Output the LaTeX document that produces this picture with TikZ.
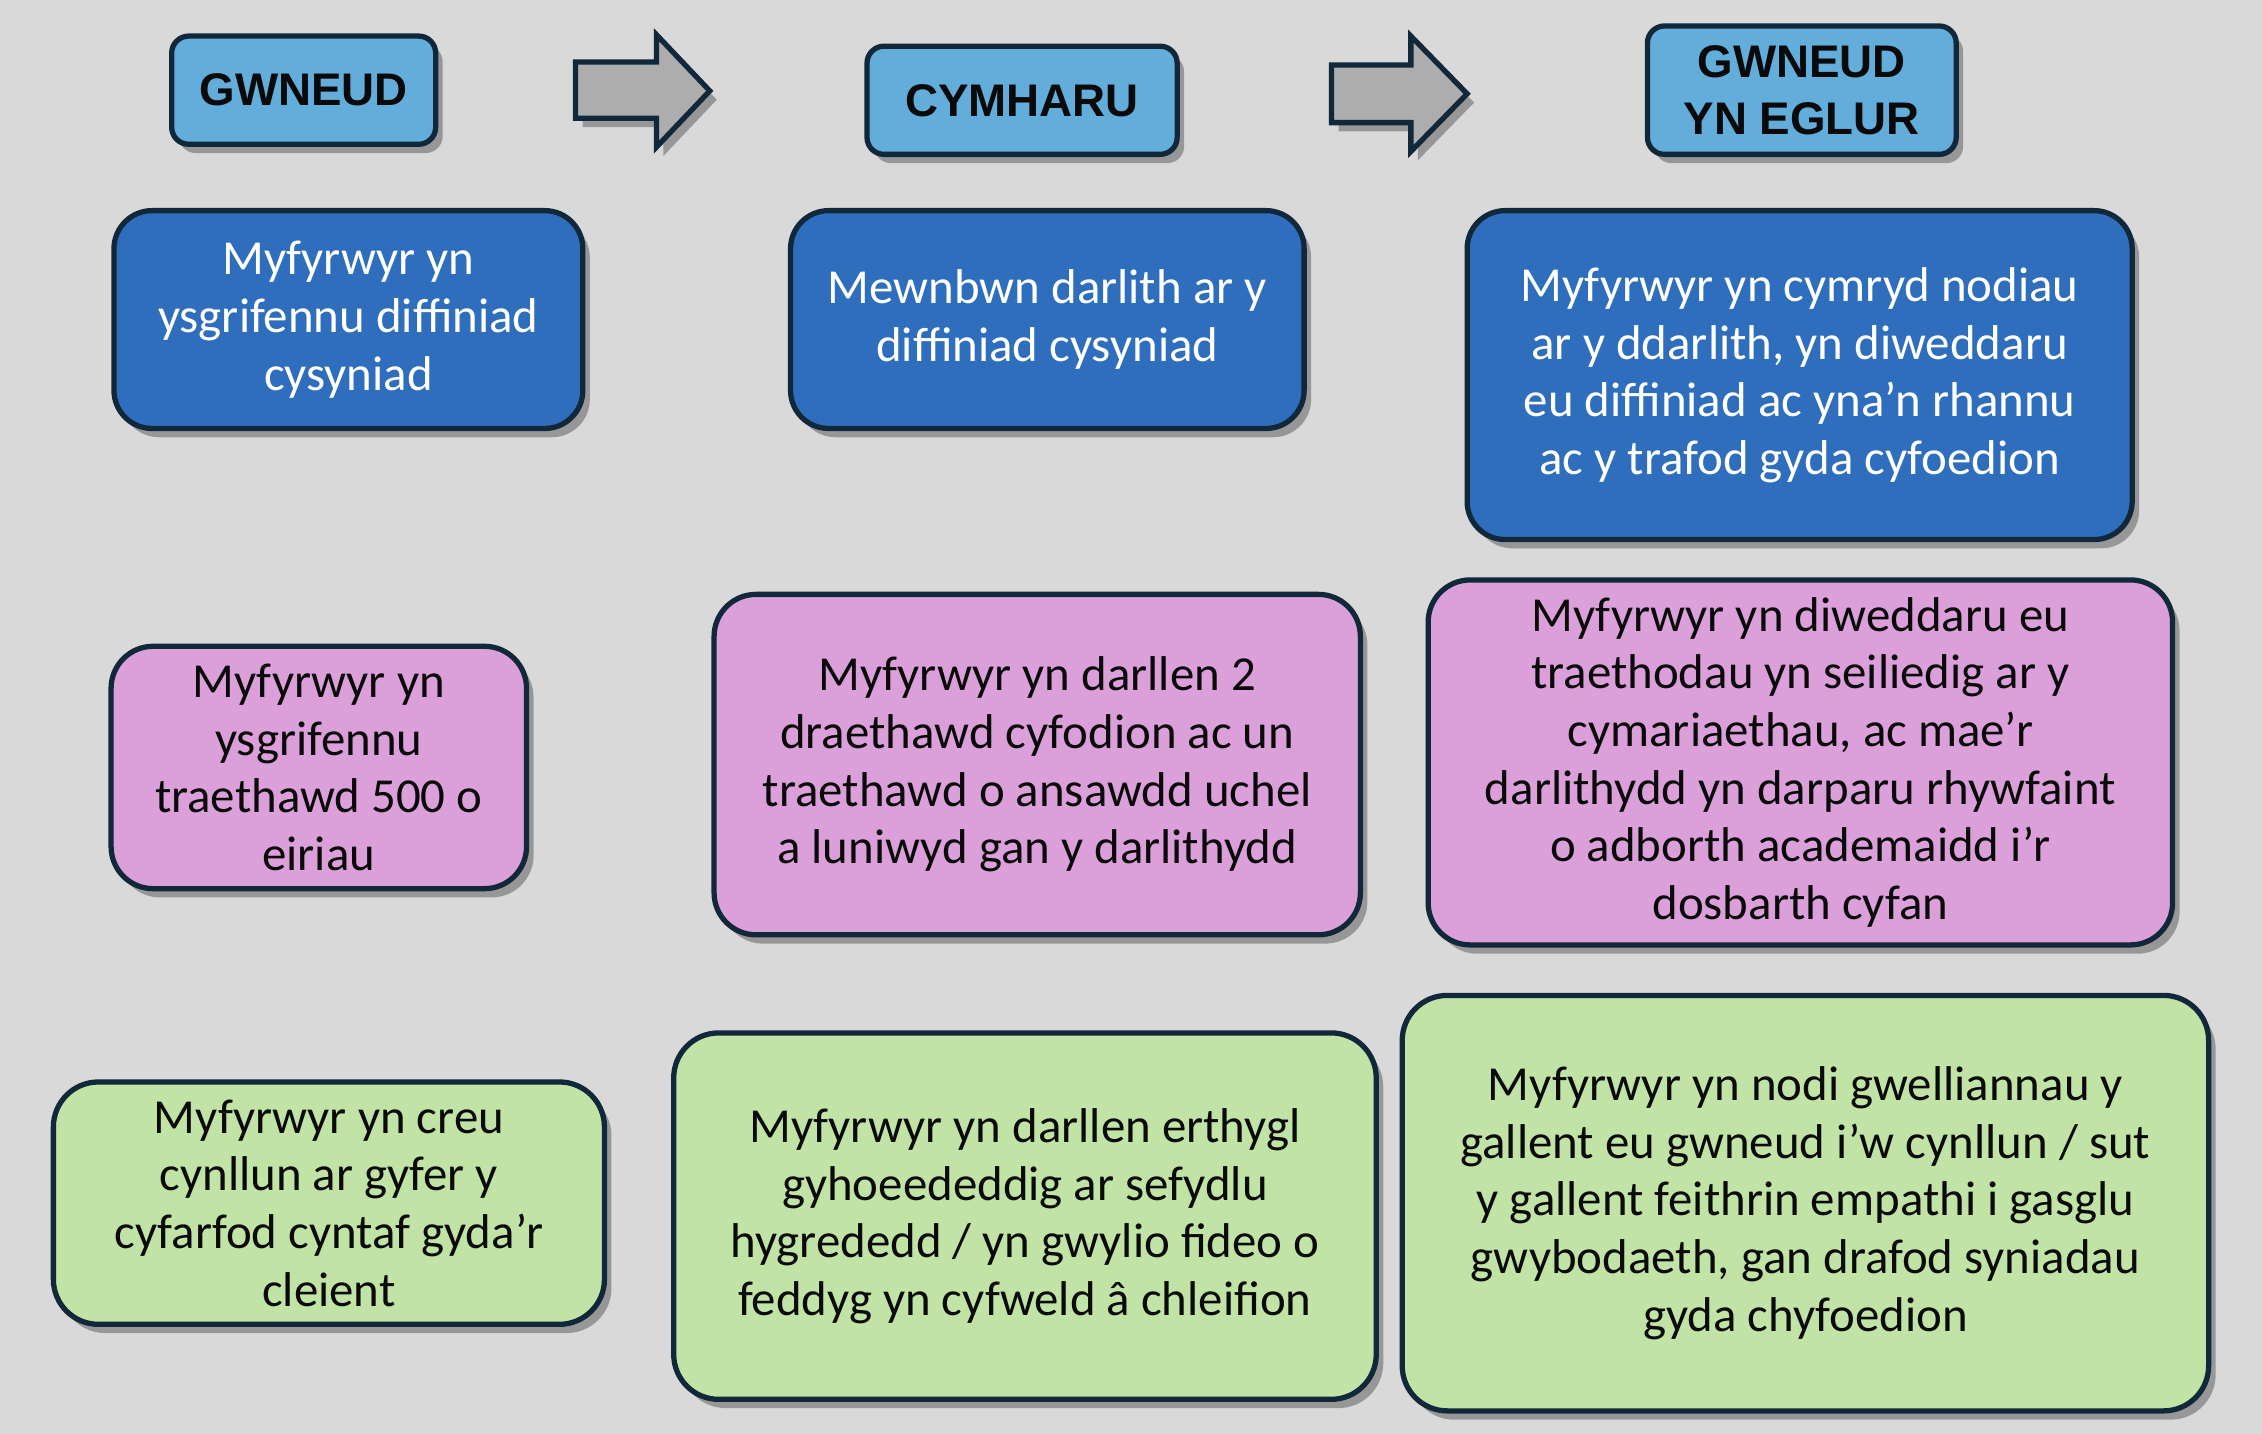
\documentclass[tikz,border=0pt]{standalone}
\usepackage{fontspec}
\setmainfont{Carlito}
\newfontfamily\hdfont{Liberation Sans}
\usetikzlibrary{shadows}
\definecolor{bg}{HTML}{D9D9D9}
\definecolor{headc}{HTML}{63ADDB}
\definecolor{dblue}{HTML}{2F6EBC}
\definecolor{pinkc}{HTML}{DBA0D9}
\definecolor{greenc}{HTML}{C1E3A6}
\definecolor{bord}{HTML}{11273A}
\definecolor{arrc}{HTML}{ADADAD}
\definecolor{txt}{HTML}{0A0A0A}
\newcommand\U{0.014426cm}
\newcommand\bx[7]{\node[#6, minimum width={(#4-#2)*\U}, minimum height={(#5-#3)*\U}] (#1) at ({(#2+#4)/2},{(#3+#5)/2}) {#7};}
\tikzset{
  shd/.style={drop shadow={shadow xshift=2pt, shadow yshift=-2.5pt, opacity=0.3, fill=black}},
  basebox/.style={draw=bord, line width=1.5pt, align=center, inner sep=0pt, shd},
  headbox/.style={basebox, fill=headc, rounded corners=0.17cm, font=\hdfont\bfseries\fontsize{13}{16.4}\selectfont, text=txt},
  bodyfont/.style={font=\fontsize{13.9}{16.4}\selectfont},
  bluebox/.style={basebox, fill=dblue, rounded corners=0.38cm, text=white, bodyfont},
  pinkbox/.style={basebox, fill=pinkc, rounded corners=0.42cm, text=txt, bodyfont},
  greenbox/.style={basebox, fill=greenc, rounded corners=0.45cm, text=txt, bodyfont},
  arrowshape/.style={draw=bord, line width=1.5pt, fill=arrc, line join=miter, shd}
}
\begin{document}
\begin{tikzpicture}[x=\U, y=-\U]
\fill[bg] (0,0) rectangle (1568,994);
\useasboundingbox (0,0) rectangle (1568,994);
% headers
\bx{h1}{119}{25}{302}{100}{headbox}{GWNEUD}
\bx{h2}{601}{32}{816}{107}{headbox}{CYMHARU}
\bx{h3}{1142}{18}{1356}{107}{headbox}{GWNEUD\\YN EGLUR}
% arrows
\draw[arrowshape] (399,43) -- (455,43) -- (455,24) -- (492,63) -- (455,102) -- (455,82) -- (399,82) -- cycle;
\draw[arrowshape] (923,45) -- (978,45) -- (978,25) -- (1017,65) -- (978,105) -- (978,85) -- (923,85) -- cycle;
% row 1
\bx{b1}{79}{146}{404}{297}{bluebox}{Myfyrwyr yn\\ysgrifennu diffiniad\\cysyniad}
\bx{b2}{548}{146}{904}{297}{bluebox}{Mewnbwn darlith ar y\\diffiniad cysyniad}
\bx{b3}{1017}{146}{1478}{374}{bluebox}{Myfyrwyr yn cymryd nodiau\\ar y ddarlith, yn diweddaru\\eu diffiniad ac yna’n rhannu\\ac y trafod gyda cyfoedion}
% row 2
\bx{p1}{77}{448}{365}{616}{pinkbox}{Myfyrwyr yn\\ysgrifennu\\traethawd 500 o\\eiriau}
\bx{p2}{495}{412}{943}{648}{pinkbox}{Myfyrwyr yn darllen 2\\draethawd cyfodion ac un\\traethawd o ansawdd uchel\\a luniwyd gan y darlithydd}
\bx{p3}{990}{402}{1506}{655}{pinkbox}{Myfyrwyr yn diweddaru eu\\traethodau yn seiliedig ar y\\cymariaethau, ac mae’r\\darlithydd yn darparu rhywfaint\\o adborth academaidd i’r\\dosbarth cyfan}
% row 3
\bx{g1}{37}{750}{419}{918}{greenbox}{Myfyrwyr yn creu\\cynllun ar gyfer y\\cyfarfod cyntaf gyda’r\\cleient}
\bx{g2}{467}{716}{954}{970}{greenbox}{Myfyrwyr yn darllen erthygl\\gyhoeededdig ar sefydlu\\hygrededd / yn gwylio fideo o\\feddyg yn cyfweld â chleifion}
\bx{g3}{972}{690}{1531}{978}{greenbox}{Myfyrwyr yn nodi gwelliannau y\\gallent eu gwneud i’w cynllun / sut\\y gallent feithrin empathi i gasglu\\gwybodaeth, gan drafod syniadau\\gyda chyfoedion}
\end{tikzpicture}
\end{document}
